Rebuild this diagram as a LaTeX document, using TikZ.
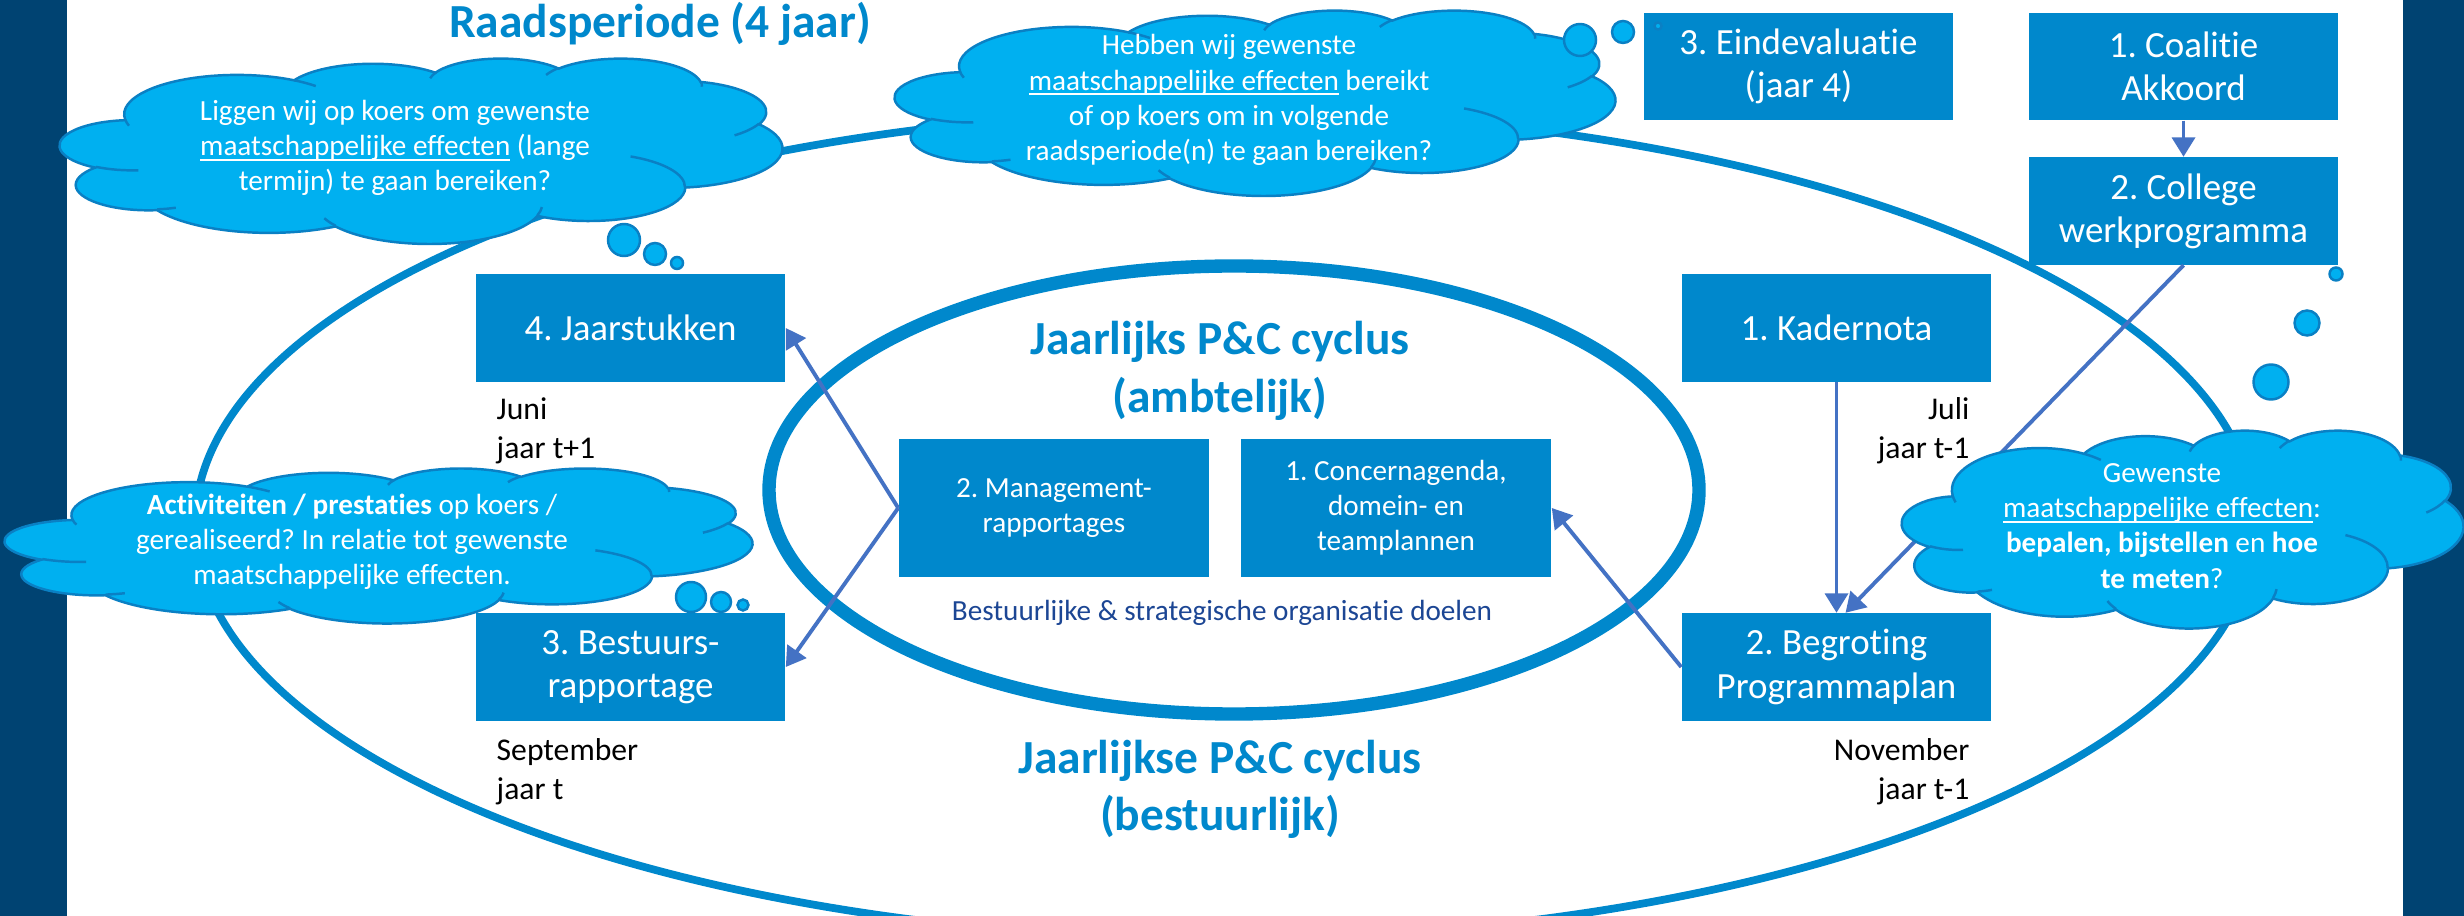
\documentclass[tikz,border=0pt]{standalone}
\usepackage{fontspec}
\setmainfont{Carlito}[Ligatures=NoCommon]
\usetikzlibrary{arrows.meta,calc}
\frenchspacing

\definecolor{navy}{RGB}{0,67,114}
\definecolor{boxblue}{RGB}{0,136,204}
\definecolor{cloudfill}{RGB}{0,176,240}
\definecolor{cloudline}{RGB}{10,128,196}
\definecolor{arrowblue}{RGB}{68,114,196}
\definecolor{darktext}{RGB}{28,70,148}

\newsavebox{\ulbox}
\newcommand{\myul}[1]{\sbox{\ulbox}{#1}\rlap{\rule[-0.17em]{\wd\ulbox}{0.065em}}\usebox{\ulbox}}

\tikzset{
 pbox/.style={fill=boxblue, text=white, minimum width=3.09cm, minimum height=1.07cm, inner sep=0pt, align=center, font=\fontsize{10.5}{12.3}\selectfont},
 ibox/.style={fill=boxblue, text=white, minimum width=3.10cm, minimum height=1.38cm, inner sep=0pt, align=center, font=\fontsize{8.3}{10}\selectfont},
 flow/.style={arrowblue, line width=1.1pt, -{Triangle[length=5.5pt,width=6.5pt]}},
 ctext/.style={text=white, align=center, font=\fontsize{8.3}{10}\selectfont, inner sep=0pt},
 month/.style={text=black, font=\fontsize{9}{11}\selectfont, inner sep=0pt},
 bigtitle/.style={text=boxblue, font=\fontsize{13.5}{16.5}\selectfont\bfseries, inner sep=0pt},
 cloudbody/.style={fill=cloudfill, draw=cloudline, line width=0.7pt},
 cloudarc/.style={draw=cloudline, line width=0.7pt},
 ring/.style={draw=boxblue},
}

% Office-style cloud in box: x0, y0, xscale(cm per unit), yscale(cm per unit, negative)
\newcommand{\officecloud}[4]{%
 \begin{scope}[shift={(#1,#2)}, x=#3cm, y=#4cm]
 \path[cloudbody] (39.00,143.70)
  arc[start angle=-187.75, end angle=-59.64, x radius=67.53, y radius=91.90]
  arc[start angle=-152.03, end angle=-45.44, x radius=53.33, y radius=72.67]
  arc[start angle=-153.50, end angle=-37.33, x radius=43.65, y radius=59.45]
  arc[start angle=-139.72, end angle=-10.21, x radius=48.57, y radius=65.95]
  arc[start angle=-74.77, end angle=23.21, x radius=53.33, y radius=72.73]
  arc[start angle=-37.52, end angle=81.86, x radius=67.75, y radius=92.20]
  arc[start angle=0.46, end angle=121.97, x radius=57.85, y radius=78.67]
  arc[start angle=16.84, end angle=146.23, x radius=67.52, y radius=92.15]
  arc[start angle=58.99, end angle=150.20, x radius=77.20, y radius=105.43]
  arc[start angle=83.31, end angle=223.10, x radius=43.60, y radius=59.18]
  arc[start angle=120.36, end angle=263.66, x radius=43.45, y radius=59.45]
  -- cycle;
 \path[cloudarc]
  (46.93,261.77) arc[start angle=85.55, end angle=120.36, x radius=43.45, y radius=59.45]
  (69.28,348.99) arc[start angle=68.24, end angle=83.31, x radius=43.60, y radius=59.18]
  (164.78,390.90) arc[start angle=146.23, end angle=158.48, x radius=67.52, y radius=92.15]
  (288.27,347.51) arc[start angle=4.74, end angle=16.84, x radius=67.52, y radius=92.15]
  (341.29,229.54) arc[start angle=-64.03, end angle=0.46, x radius=57.85, y radius=78.67]
  (417.98,153.54) arc[start angle=23.21, end angle=49.64, x radius=53.33, y radius=72.73]
  (383.24,54.26) arc[start angle=-10.21, end angle=0.82, x radius=48.57, y radius=65.95]
  (290.78,39.52) arc[start angle=-156.28, end angle=-139.72, x radius=48.57, y radius=65.95]
  (221.41,47.20) arc[start angle=-167.73, end angle=-153.50, x radius=43.65, y radius=59.45]
  (140.00,51.92) arc[start angle=-59.64, end angle=-45.72, x radius=67.53, y radius=91.90]
  (41.27,157.89) arc[start angle=163.19, end angle=172.25, x radius=67.53, y radius=91.90];
 \end{scope}}

\begin{document}
\begin{tikzpicture}[x=0.01cm, y=-0.01cm]
\useasboundingbox (0,0) rectangle (2464,916);
\clip (0,0) rectangle (2464,916);
\fill[white] (0,0) rectangle (2464,916);
\fill[navy] (0,0) rectangle (67,916);
\fill[navy] (2403,0) rectangle (2464,916);

% cycles
\draw[ring, line width=2.2pt] (1225,525) ellipse[x radius=1030, y radius=414];
\draw[ring, line width=3.8pt] (1234,490) ellipse[x radius=465, y radius=224];

% boxes
\node[pbox] (eind) at (1798.5,66.5) {3. Eindevaluatie\\(jaar 4)};
\node[pbox] (coal) at (2183.5,66.5) {1. Coalitie\\Akkoord};
\node[pbox] (coll) at (2183.5,211) {2. College\\werkprogramma};
\node[pbox] (kader) at (1836.5,328) {1. Kadernota};
\node[pbox] (begr) at (1836.5,667) {2. Begroting\\Programmaplan};
\node[pbox] (jaar) at (630.5,328) {4. Jaarstukken};
\node[pbox] (best) at (630.5,667) {3. Bestuurs-\\rapportage};
\node[ibox] (mgmt) at (1054,508) {2. Management-\\rapportages};
\node[ibox] (conc) at (1396,508) {1. Concernagenda,\\domein- en\\teamplannen};

% connectors
\coordinate (begrtip) at ($(begr.north)+(9,0)$);
\draw[flow] (coal.south) -- (coll.north);
\draw[flow] (kader.south) -- (begr.north);
\draw[flow] (coll.south) -- (begrtip);
\draw[flow] (begr.west) -- (conc.east);
\draw[flow] (mgmt.west) -- (jaar.east);
\draw[flow] (mgmt.west) -- (best.east);

% clouds
\officecloud{60}{58}{0.016713}{-0.0042824}
\officecloud{895}{10}{0.016667}{-0.0042824}
\officecloud{5}{468}{0.017292}{-0.0035880}
\officecloud{1902}{430}{0.012986}{-0.0045833}

% thought bubbles
\path[cloudbody] (624,240) circle[radius=16];
\path[cloudbody] (655,254) circle[radius=11];
\path[cloudbody] (677,263) circle[radius=6];
\path[cloudbody] (1580,40) circle[radius=16];
\path[cloudbody] (1623,32) circle[radius=11];
\path[cloudbody] (1658,26) circle[radius=3.5];
\path[cloudbody] (691,597) circle[radius=15];
\path[cloudbody] (721,602) circle[radius=10];
\path[cloudbody] (743,605) circle[radius=5.5];
\path[cloudbody] (2271,382) circle[radius=17.5];
\path[cloudbody] (2307,323) circle[radius=12.5];
\path[cloudbody] (2336,274) circle[radius=6.5];

% cloud texts
\node[ctext] (c1t) at (395,148) {Liggen wij op koers om gewenste\\\myul{maatschappelijke effecten} (lange\\termijn) te gaan bereiken?};
\node[ctext] (c2t) at (1229,100) {Hebben wij gewenste\\\myul{maatschappelijke effecten} bereikt\\of op koers om in volgende\\raadsperiode(n) te gaan bereiken?};
\node[ctext] (c3t) at (352,542) {\textbf{Activiteiten / prestaties} op koers /\\gerealiseerd? In relatie tot gewenste\\maatschappelijke effecten.};
\node[ctext] (c4t) at (2162,526) {Gewenste\\\myul{maatschappelijke effecten}:\\\textbf{bepalen, bijstellen} en \textbf{hoe}\\\textbf{te meten}?};

% titles
\node[bigtitle, anchor=base] (raad) at (660,38) {Raadsperiode (4 jaar)};
\node[bigtitle, anchor=base] (amb1) at (1220,355) {Jaarlijks P\&C cyclus};
\node[bigtitle, anchor=base] (amb2) at (1220,413) {(ambtelijk)};
\node[bigtitle, anchor=base] (bes1) at (1220,773) {Jaarlijkse P\&C cyclus};
\node[bigtitle, anchor=base] (bes2) at (1220,830) {(bestuurlijk)};
\node[anchor=base, text=darktext, font=\fontsize{8.3}{10}\selectfont, inner sep=0pt] (doel) at (1222,620) {Bestuurlijke \& strategische organisatie doelen};

% month labels
\node[month, anchor=base west] (m1a) at (496,420) {Juni};
\node[month, anchor=base west] (m1b) at (496,459) {jaar t+1};
\node[month, anchor=base west] (m2a) at (496,760) {September};
\node[month, anchor=base west] (m2b) at (496,799) {jaar t};
\node[month, anchor=base east] (m3a) at (1970,420) {Juli};
\node[month, anchor=base east] (m3b) at (1970,459) {jaar t-1};
\node[month, anchor=base east] (m4a) at (1970,760) {November};
\node[month, anchor=base east] (m4b) at (1970,799) {jaar t-1};
\end{tikzpicture}
\end{document}
